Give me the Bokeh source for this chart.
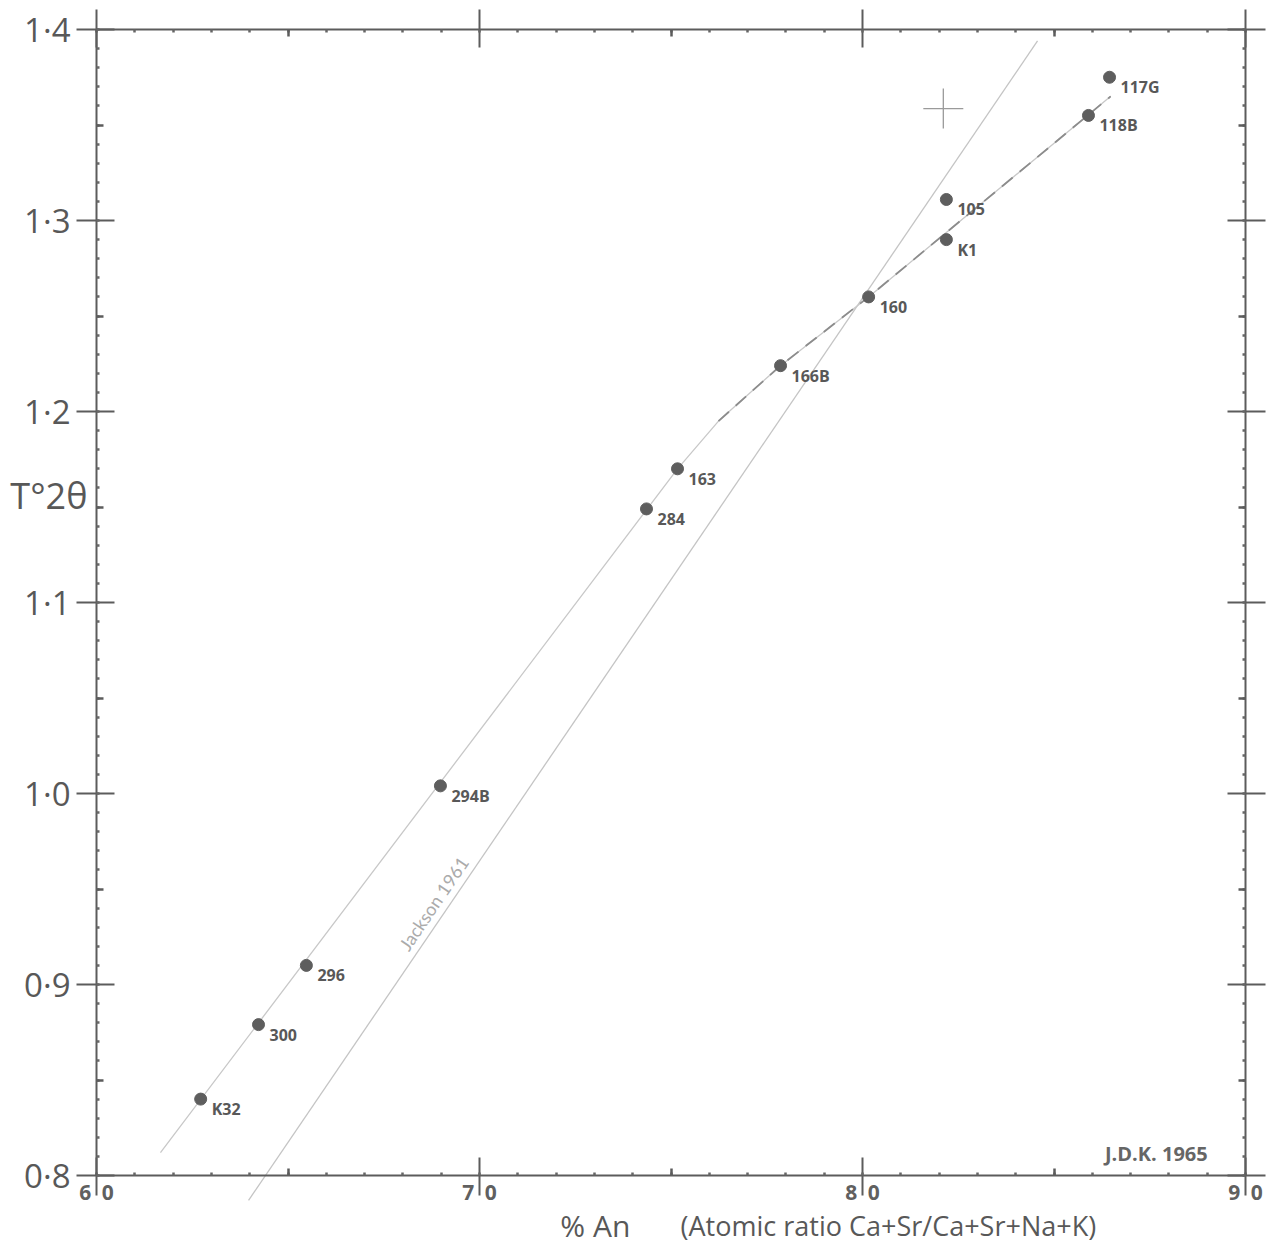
from bokeh.plotting import figure
from bokeh.models import Range1d, LinearAxis, FixedTicker
from bokeh.core.properties import value
from bokeh.embed import file_html
from bokeh.resources import INLINE

# ---- data ----
sample_ids = ["K32", "300", "296", "294B", "284", "163", "166B", "160", "K1", "105", "118B", "117G"]
an_pct = [62.72, 64.23, 65.48, 68.98, 74.36, 75.17, 77.86, 80.16, 82.19, 82.19, 85.90, 86.45]
gamma_2theta = [0.840, 0.879, 0.910, 1.004, 1.149, 1.170, 1.224, 1.260, 1.290, 1.311, 1.355, 1.375]

# hand-drawn fitted curve (solid lower part, dashed upper part)
fit_x = [61.67, 75.17, 76.24, 77.86, 80.16, 86.48]
fit_y = [0.812, 1.170, 1.195, 1.224, 1.260, 1.365]
fit_dash_x = [76.24, 77.86, 80.16, 86.48]
fit_dash_y = [1.195, 1.224, 1.260, 1.365]

# Jackson 1961 reference line
jackson_x = [63.97, 84.57]
jackson_y = [0.787, 1.394]

# stray pencil cross
cross_x = [82.11]
cross_y = [1.3586]

x_ticks = [60, 70, 80, 90]
x_tick_labels = ["6\u20020", "7\u20020", "8\u20020", "9\u20020"]
x_mid_ticks = [65, 75, 85]
y_ticks = [0.8, 0.9, 1.0, 1.1, 1.2, 1.3, 1.4]
y_tick_labels = ["0·8", "0·9", "1·0", "1·1", "1·2", "1·3", "1·4"]
y_mid_ticks = [0.85, 0.95, 1.05, 1.15, 1.25, 1.35]
x_minor = list(range(60, 91))
y_minor = [round(0.8 + 0.01 * i, 2) for i in range(61)]

X_MIN, X_MAX = 60, 90
Y_MIN, Y_MAX = 0.8, 1.4

# ---- layout (pixels) ----
W, H = 1280, 1250
FL, FR, FT, FB = 96, 1245, 29, 1175     # where the drawn frame sits on the canvas
xpp = (X_MAX - X_MIN) / (FR - FL)
ypp = (Y_MAX - Y_MIN) / (FB - FT)
x_lo, x_hi = X_MIN - FL * xpp, X_MAX + (W - FR) * xpp
y_lo, y_hi = Y_MIN - (H - FB) * ypp, Y_MAX + FT * ypp

INK = "#5c5c5c"
TXT = "#585858"
FONT = "Open Sans"

p = figure(width=W, height=H,
           x_range=Range1d(x_lo, x_hi), y_range=Range1d(y_lo, y_hi),
           output_backend="svg", toolbar_location=None,
           min_border_left=0, min_border_right=0,
           min_border_top=0, min_border_bottom=0)
p.title.visible = False
p.grid.visible = False
p.outline_line_color = None
p.background_fill_color = "white"
p.border_fill_color = "white"

xb = p.below[0]
yl = p.left[0]
top_axis = LinearAxis()
right_axis = LinearAxis()
p.add_layout(top_axis, "above")
p.add_layout(right_axis, "right")

xb.fixed_location = Y_MIN
top_axis.fixed_location = Y_MAX
yl.fixed_location = X_MIN
right_axis.fixed_location = X_MAX


def style_axis(ax, ticks, minor, bounds):
    ax.bounds = bounds
    ax.ticker = FixedTicker(ticks=ticks, minor_ticks=minor)
    ax.axis_line_color = INK
    ax.axis_line_width = 2
    ax.major_tick_line_color = INK
    ax.major_tick_line_width = 2
    ax.major_tick_in = 18
    ax.major_tick_out = 20
    ax.minor_tick_line_color = "#666666"
    ax.minor_tick_line_width = 2.5
    ax.minor_tick_in = 3
    ax.minor_tick_out = 0


style_axis(xb, x_ticks, x_minor, (X_MIN, X_MAX))
style_axis(yl, y_ticks, y_minor, (Y_MIN, Y_MAX))
style_axis(top_axis, x_ticks, x_minor, (X_MIN, X_MAX))
style_axis(right_axis, y_ticks, y_minor, (Y_MIN, Y_MAX))

xb.major_label_overrides = dict(zip(x_ticks, x_tick_labels))
xb.major_label_text_font = FONT
xb.major_label_text_font_size = "21px"
xb.major_label_text_font_style = "bold"
xb.major_label_text_color = "#606060"
xb.major_label_standoff = -18

yl.major_label_overrides = dict(zip(y_ticks, y_tick_labels))
yl.major_label_text_font = FONT
yl.major_label_text_font_size = "33px"
yl.major_label_text_color = TXT
yl.major_label_standoff = 6

for ax in (top_axis, right_axis):
    ax.major_label_text_color = None

# slightly longer half-way ticks on every side
for loc, fixed, ticks in (("below", Y_MIN, x_mid_ticks), ("above", Y_MAX, x_mid_ticks),
                          ("left", X_MIN, y_mid_ticks), ("right", X_MAX, y_mid_ticks)):
    mid = LinearAxis(fixed_location=fixed, ticker=FixedTicker(ticks=ticks, minor_ticks=[]),
                     axis_line_color=None, major_label_text_color=None,
                     major_tick_in=7, major_tick_out=0, major_tick_line_width=2.5,
                     major_tick_line_color=INK, minor_tick_line_color=None)
    p.add_layout(mid, loc)

# lines
p.line(jackson_x, jackson_y, line_color="#c4c4c4", line_width=1.3)
p.line(fit_x, fit_y, line_color="#c8c8c8", line_width=1.3)
p.line(fit_dash_x, fit_dash_y, line_color="#8c8c8c", line_width=1.8, line_dash="14 9")

# points and their labels
p.scatter(an_pct, gamma_2theta, size=12, color="#5e5e5e")
p.text(an_pct, gamma_2theta, text=sample_ids, x_offset=11, y_offset=10,
       text_font=value(FONT), text_font_size="16px", text_font_style="bold",
       text_color=TXT, text_baseline="middle", text_align="left")

p.scatter(cross_x, cross_y, marker="cross", size=40, line_color="#9a9a9a", line_width=1.3)

p.text([68.80], [0.9424], text=["Jackson 1961"], angle=0.974,
       text_font=value("Lato"), text_font_size="18px",
       text_color="#ababab", text_align="center", text_baseline="middle")

p.text([86.33], [0.8115], text=["J.D.K. 1965"], text_font=value(FONT),
       text_font_size="20px", text_font_style="bold", text_color="#666666",
       text_baseline="middle", text_align="left")

p.text([57.75], [1.156], text=["T°2θ"], text_font=value(FONT),
       text_font_size="36px", text_color=TXT,
       text_baseline="middle", text_align="left")

p.text([72.11], [0.7738], text=["% An"], text_font=value(FONT),
       text_font_size="30px", text_color=TXT,
       text_baseline="middle", text_align="left")
p.text([75.25], [0.7738], text=["(Atomic ratio Ca+Sr/Ca+Sr+Na+K)"], text_font=value(FONT),
       text_font_size="27px", text_color=TXT,
       text_baseline="middle", text_align="left")

open("out.html", "w").write(file_html(p, INLINE))
